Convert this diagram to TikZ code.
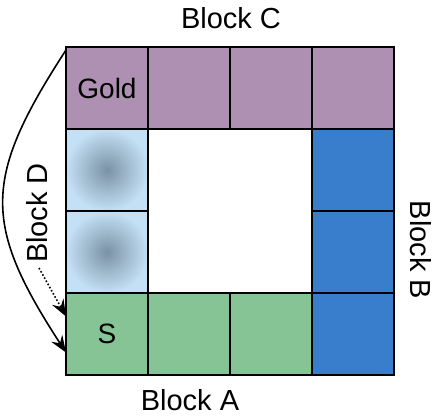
\documentclass[tikz,border=0pt]{standalone}
\usepackage{fontspec}
\setmainfont{Liberation Sans}
\usetikzlibrary{positioning,arrows.meta}
\definecolor{plum}{RGB}{174,144,178}
\definecolor{leaf}{RGB}{134,196,150}
\definecolor{sea}{RGB}{56,126,204}
\definecolor{pale}{RGB}{196,224,244}
\definecolor{haze}{RGB}{122,146,166}
\begin{document}
\begin{tikzpicture}[x=1pt, y=-1pt,
	cell/.style={draw, line width=2pt, minimum size=82pt, inner sep=0pt, outer sep=0pt,
		font=\fontsize{28}{30}\selectfont},
	lbl/.style={font=\fontsize{29}{30}\selectfont, inner sep=0pt},
	arr/.style={-{Stealth[length=17pt, width=13pt, inset=6pt]}, line width=1.6pt}]
								\useasboundingbox (0,0) rectangle (434,416);

								% block C (top row)
								\node[cell, fill=plum] (gold) at (107,88) {Gold};
								\node[cell, fill=plum] (c2) at (189,88) {};
								\node[cell, fill=plum] (c3) at (271,88) {};
								\node[cell, fill=plum] (c4) at (353,88) {};

								% block D (left column)
								\node[cell, shading=radial, inner color=haze, outer color=pale] (d1) at (107,170) {};
								\node[cell, shading=radial, inner color=haze, outer color=pale] (d2) at (107,252) {};

								% block A (bottom row)
								\node[cell, fill=leaf] (s) at (107,333.5) {S};
								\node[cell, fill=leaf] (a2) at (189,333.5) {};
								\node[cell, fill=leaf] (a3) at (271,333.5) {};

								% block B (right column)
								\node[cell, fill=sea] (b1) at (353,170) {};
								\node[cell, fill=sea] (b2) at (353,252) {};
								\node[cell, fill=sea] (b3) at (353,333.5) {};

								\node[lbl] (lc) at (231,18) {Block C};
								\node[lbl] (la) at (190,400) {Block A};
								\node[lbl, rotate=-90] (lb) at (421,250) {Block B};
								\node[lbl, rotate=90] (ld) at (37,213) {Block D};

								\coordinate (dot) at (39,268);

								\draw[arr] ([yshift=-3pt]gold.north west) to[out=237, in=123, looseness=1.3] ([yshift=-19pt]s.west);
								\draw[arr, dotted] (dot) to ([yshift=-24pt]s.north west);

							\end{tikzpicture}
\end{document}
